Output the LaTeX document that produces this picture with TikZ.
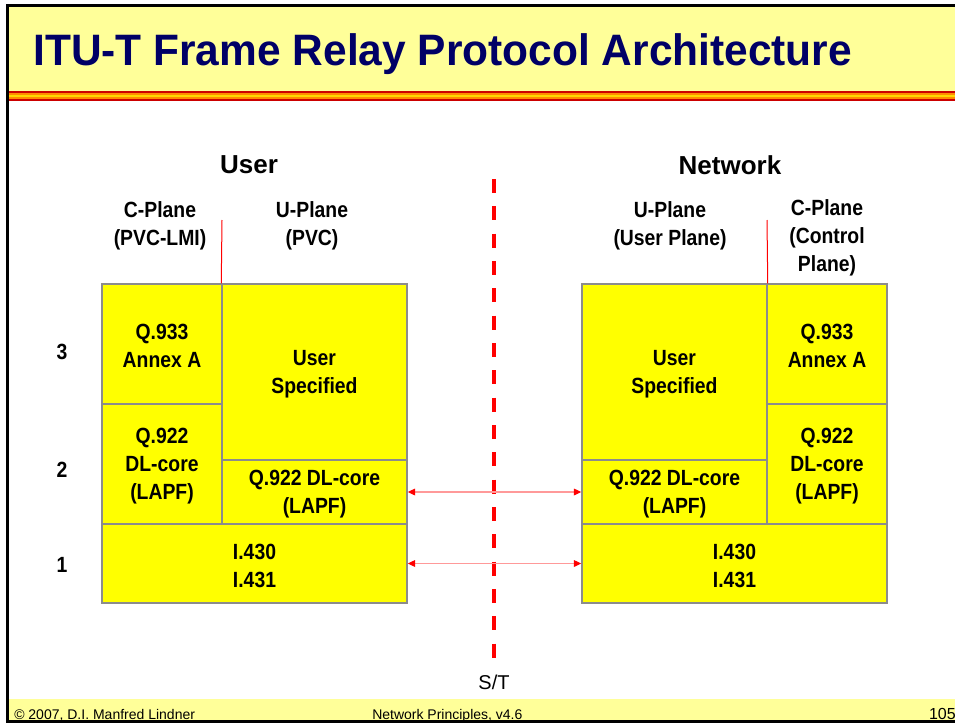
\documentclass[tikz,border=0pt]{standalone}
\usepackage{fontspec}
\setmainfont{Liberation Sans}
\newfontfamily\narrowfont[FakeStretch=0.88]{Liberation Sans}
\newfontfamily\titlefamily[FakeStretch=0.965]{Liberation Sans}
\usetikzlibrary{arrows.meta}
\definecolor{titleyellow}{HTML}{FFFF99}
\definecolor{navytext}{HTML}{000066}
\definecolor{boxyellow}{HTML}{FFFF00}
\definecolor{boxgray}{HTML}{8C8C8C}
\definecolor{pinkline}{HTML}{FF9999}
\definecolor{darkred}{HTML}{CC0000}
\definecolor{orangeband}{HTML}{FF8C00}
\definecolor{goldband}{HTML}{FFD700}
\newcommand\boxfont{\narrowfont\bfseries\fontsize{16.5}{21}\selectfont}
\newcommand\headfont{\bfseries\fontsize{19.5}{24}\selectfont}
\newcommand\footfont{\fontsize{10.5}{12}\selectfont}
% \stackcell{name}{x1}{y1}{x2}{y2}{text}  (pixel coordinates)
\newcommand\stackcell[6]{%
  \node[stackbox, minimum width={(#4-#2)*0.75pt}, minimum height={(#5-#3)*0.75pt}]
    (#1) at ({(#2+#4)/2},{(#3+#5)/2}) {};%
  \node[celltext] (#1t) at ({(#2+#4)/2},{(#3+#5)/2+2}) {#6};}
\tikzset{
  stackbox/.style={draw=boxgray, line width=1.1pt, fill=boxyellow, inner sep=0pt},
  celltext/.style={align=center, font=\boxfont, inner sep=0pt},
  planelabel/.style={align=center, font=\boxfont, inner sep=0pt},
  headlabel/.style={font=\headfont, inner sep=0pt},
  layerlabel/.style={font=\boxfont, inner sep=0pt},
  arrowline/.style={draw=pinkline, line width=0.9pt, {Triangle[length=5.5pt,width=5pt,color=red]}-{Triangle[length=5.5pt,width=5pt,color=red]}},
  divline/.style={draw=red, line width=0.75pt},
  stline/.style={draw=red, line width=3pt, dash pattern=on 10.5pt off 10pt},
  foottext/.style={font=\footfont, inner sep=0pt}
}
\begin{document}
\begin{tikzpicture}[x=0.75pt,y=-0.75pt]
\useasboundingbox (0,0) rectangle (955,724);
\fill[white] (0,0) rectangle (955,724);
% title band
\fill[titleyellow] (8,5) rectangle (955,91);
\fill[darkred] (8,91) rectangle (955,93);
\fill[orangeband] (8,93) rectangle (955,95);
\fill[goldband] (8,95) rectangle (955,96.5);
\fill[orangeband] (8,96.5) rectangle (955,98.5);
\fill[darkred] (8,98.5) rectangle (955,100.5);
% footer band
\fill[titleyellow] (8,699) rectangle (955,720);
% frame
\draw[black, line width=2.25pt] (955,5.3) -- (7.5,5.3) -- (7.5,721.5) -- (955,721.5);
% title
\node[anchor=base west, inner sep=0pt, text=navytext, font=\titlefamily\bfseries\fontsize{33}{36}\selectfont] (title) at (33,65) {ITU-T Frame Relay Protocol Architecture};
% headers
\node[headlabel] (user) at (249,165) {User};
\node[headlabel] (network) at (730,165) {Network};
\node[planelabel] (lcp) at (160,226) {C-Plane\\(PVC-LMI)};
\node[planelabel] (lup) at (312,226) {U-Plane\\(PVC)};
\node[planelabel] (rup) at (670,226) {U-Plane\\(User Plane)};
\node[planelabel] (rcp) at (827,238) {C-Plane\\(Control\\Plane)};
% layer numbers
\node[layerlabel] (n3) at (62,352) {3};
\node[layerlabel] (n2) at (62,470) {2};
\node[layerlabel] (n1) at (62,565) {1};
% left stack
\stackcell{L3c}{102}{284}{222}{404}{Q.933\\Annex A}
\stackcell{LUS}{222}{284}{407}{460}{User\\Specified}
\stackcell{L2c}{102}{404}{222}{524}{Q.922\\DL-core\\(LAPF)}
\stackcell{L2u}{222}{460}{407}{524}{Q.922 DL-core\\(LAPF)}
\stackcell{L1}{102}{524}{407}{603}{I.430\\I.431}
% right stack
\stackcell{RUS}{582}{284}{767}{460}{User\\Specified}
\stackcell{R3c}{767}{284}{887}{404}{Q.933\\Annex A}
\stackcell{R2u}{582}{460}{767}{524}{Q.922 DL-core\\(LAPF)}
\stackcell{R2c}{767}{404}{887}{524}{Q.922\\DL-core\\(LAPF)}
\stackcell{R1}{582}{524}{887}{603}{I.430\\I.431}
% plane dividers
\coordinate (ldiv) at (222,220);
\coordinate (rdiv) at (767,220);
\draw[divline] (ldiv) -- (LUS.north west);
\draw[divline] (rdiv) -- (RUS.north east);
% S/T reference line
\coordinate (stT) at (494,179);
\coordinate (stB) at (494,658);
\draw[stline] (stT) -- (stB);
\node[inner sep=0pt, font=\fontsize{15}{18}\selectfont] (st) at (494,682) {S/T};
% peer arrows
\draw[arrowline] (L2u.east) -- (R2u.west);
\draw[arrowline] (L1.east) -- (R1.west);
% footer
\node[foottext, anchor=base west] (copy) at (14,719) {\textcopyright\ 2007, D.I. Manfred Lindner};
\node[foottext, anchor=base west] (course) at (372,719) {Network Principles, v4.6};
\node[foottext, anchor=base east, font=\fontsize{12}{14}\selectfont] (page) at (956,719) {105};
\end{tikzpicture}
\end{document}
